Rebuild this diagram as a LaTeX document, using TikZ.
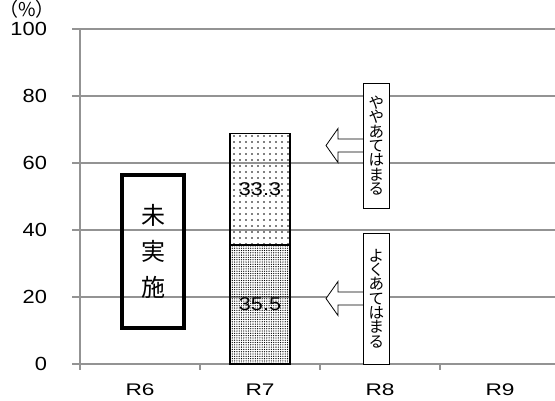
\documentclass[tikz,border=0pt]{standalone}
\usepackage{fontspec}
\setmainfont{Liberation Sans}
\newfontfamily\jpfont{Noto Sans CJK JP}
\usetikzlibrary{patterns.meta}

\tikzset{
  gridline/.style={draw=gray!85, line width=1.1pt},
  ylabel/.style={anchor=east, font=\fontsize{19}{20}\selectfont, xscale=1.15},
  xlabel/.style={font=\fontsize{16.8}{18}\selectfont, xscale=1.35},
  barvalue/.style={font=\fontsize{18.5}{20}\selectfont, xscale=1.17},
  tatebox/.style={draw, fill=white, line width=0.8pt, minimum width=26pt, align=center,
    inner sep=0pt, font=\jpfont\fontsize{15.5}{14.3}\selectfont},
  blockarrow/.style={draw, fill=white, line width=0.8pt}
}

\begin{document}
\begin{tikzpicture}[x=1pt, y=-1pt]
\useasboundingbox (0,0) rectangle (555,400);

% Drawing grid and y labels
\foreach \v in {0,20,...,100}{
  \draw[gridline] (72,{364-3.35*\v}) -- (555,{364-3.35*\v});
  \node[ylabel] (y\v) at (51,{364-3.35*\v}) {\v};
}
\node[font=\jpfont\fontsize{19}{20}\selectfont, inner sep=0pt, anchor=north] (unit) at (27,0.5) {（\%）};

% Drawing axis and ticks
\draw[gridline] (80,29) -- (80,370);
\foreach \x in {200,320,440}
  \draw[gridline] (\x,364) -- (\x,370);

% Drawing category labels
\node[xlabel] (r6) at (140,390) {R6};
\node[xlabel] (r7) at (260,390) {R7};
\node[xlabel] (r8) at (380,390) {R8};
\node[xlabel] (r9) at (500,390) {R9};

% Drawing R7 bar
\draw[line width=1.2pt, pattern={Dots[distance=2.3pt, radius=0.65pt]}] (230,364) rectangle (290,{364-3.35*35.5});
\draw[line width=1.2pt, pattern={Dots[distance=6pt, radius=0.9pt]}] (230,{364-3.35*35.5}) rectangle (290,{364-3.35*68.8});
\node[barvalue] (v355) at (260,{364-3.35*17.75}) {35.5};
\node[barvalue] (v333) at (260,{364-3.35*52.15}) {33.3};

% Drawing R6 box
\node[draw, line width=3.5pt, minimum width=62pt, minimum height=153pt, align=center,
  font=\jpfont\fontsize{24}{36}\selectfont] (mijisshi) at (153,251.5) {未\\実\\施};

% Drawing arrows and labels
\coordinate (yayatip) at (363,145.5);
\coordinate (yokutip) at (363,298.5);
\draw[blockarrow] (yayatip) ++(0,6.5) -- ++(-25,0) -- ++(0,10.5) -- ++(-12,-17)
  -- ++(12,-17) -- ++(0,10.5) -- ++(25,0);
\draw[blockarrow] (yokutip) ++(0,6.5) -- ++(-25,0) -- ++(0,10.5) -- ++(-12,-17)
  -- ++(12,-17) -- ++(0,10.5) -- ++(25,0);
\node[tatebox, minimum height=125pt, anchor=west] (yaya) at (yayatip) {や\\や\\あ\\て\\は\\ま\\る};
\node[tatebox, minimum height=131pt, anchor=west] (yoku) at (yokutip) {よ\\く\\あ\\て\\は\\ま\\る};

\end{tikzpicture}
\end{document}
